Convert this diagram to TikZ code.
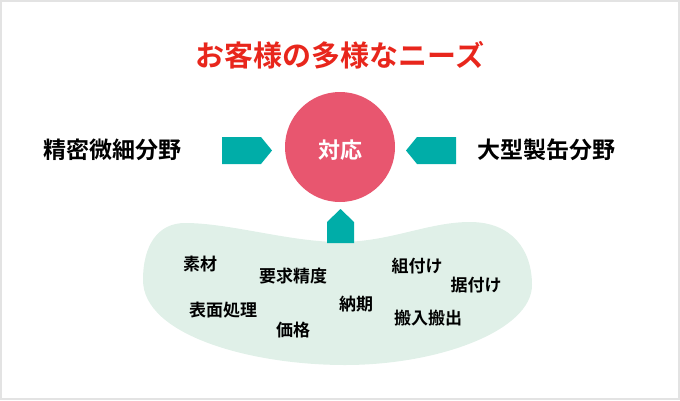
\documentclass[tikz,border=0pt]{standalone}
\usepackage{fontspec}
\newfontfamily\jp{Noto Sans CJK JP}
\newfontfamily\jpb{Noto Sans CJK JP Bold}
\definecolor{titlered}{HTML}{E8261C}
\definecolor{pinkc}{HTML}{E8566F}
\definecolor{tealc}{HTML}{00ADA8}
\definecolor{mint}{HTML}{E0F0E8}
\definecolor{frame}{HTML}{E3E3E3}
\begin{document}
\begin{tikzpicture}[x=1pt,y=-1pt,
  lbl/.style={font=\jpb\fontsize{23}{23}\selectfont, text=black, inner sep=0},
  need/.style={font=\jpb\fontsize{17}{17}\selectfont, text=black, inner sep=0},
  arr/.style={fill=tealc, draw=none}]
\useasboundingbox (0,0) rectangle (680,400);
\draw[frame, line width=2pt] (1,1) rectangle (679,399);
% title
\node[font=\jpb\fontsize{29}{29}\selectfont, text=titlered, inner sep=0] (title) at (340,55) {お客様の多様なニーズ};
% blob
\fill[mint] (143,280) .. controls (143,245) and (158,223) .. (185,223)
  .. controls (230,223) and (290,242) .. (340,242)
  .. controls (390,242) and (428,222) .. (470,222)
  .. controls (512,222) and (532,250) .. (532,285)
  .. controls (532,330) and (440,365) .. (345,365)
  .. controls (250,365) and (143,335) .. (143,280) -- cycle;
% circle
\node[circle, fill=pinkc, minimum size=110pt, inner sep=0] (c) at (340,147) {};
\node[font=\jpb\fontsize{22}{22}\selectfont, text=white, inner sep=0] (ct) at (340,150) {対応};
% arrows
\fill[arr] (222,137) -- (261,137) -- (272,150.5) -- (261,164) -- (222,164) -- cycle;
\fill[arr] (456,137) -- (417,137) -- (406,150.5) -- (417,164) -- (456,164) -- cycle;
\fill[arr] (327,243) -- (327,222) -- (340.5,209) -- (354,222) -- (354,243) -- cycle;
% side labels
\node[lbl] (l) at (112,150) {精密微細分野};
\node[lbl] (r) at (546,150) {大型製缶分野};
% needs
\node[need] (n1) at (200,264) {素材};
\node[need] (n2) at (293,276) {要求精度};
\node[need] (n3) at (417,266) {組付け};
\node[need] (n4) at (476,285) {据付け};
\node[need] (n5) at (223,310) {表面処理};
\node[need] (n6) at (356,304) {納期};
\node[need] (n7) at (428,318) {搬入搬出};
\node[need] (n8) at (293,330) {価格};
\end{tikzpicture}
\end{document}
